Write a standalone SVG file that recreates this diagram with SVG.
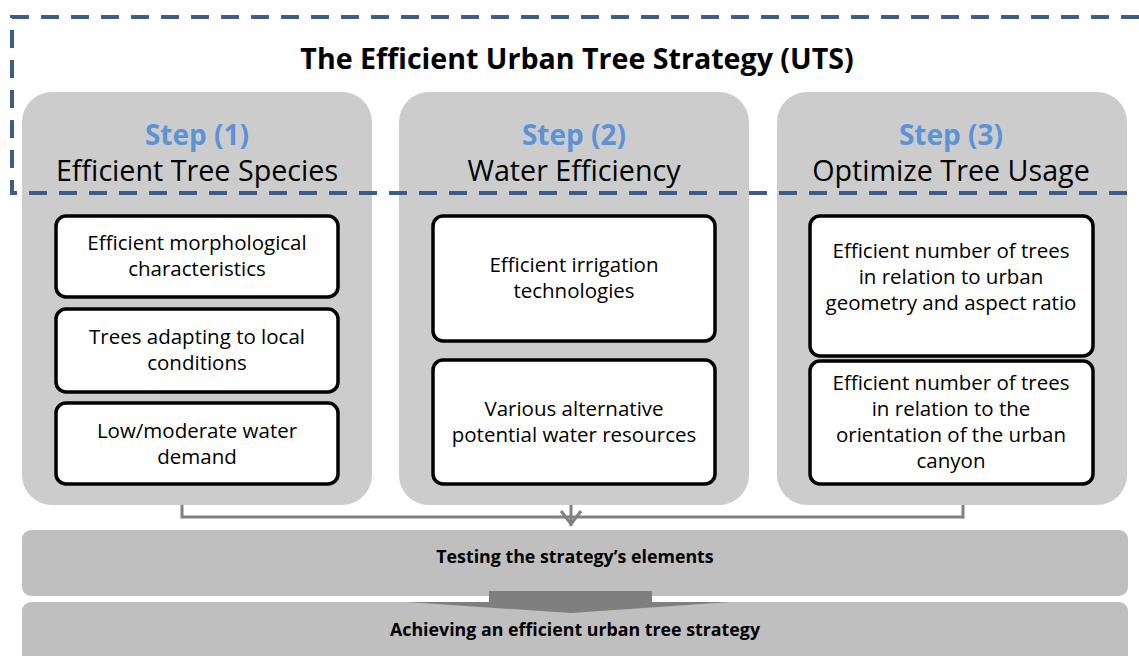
<svg xmlns="http://www.w3.org/2000/svg" width="1139" height="656" viewBox="0 0 1139 656">
  <style>
    text { font-family: "Open Sans", Lato, "Liberation Sans", sans-serif; text-anchor: middle; fill: #000; }
    .panel { fill: #cccccc; }
    .box { fill: #ffffff; stroke: #000; stroke-width: 3.5; }
    .step { font-size: 28px; font-weight: bold; fill: #5b93d8; }
    .head { font-size: 28.7px; }
    .item { font-size: 20.5px; }
    .bar { fill: #bfbfbf; }
    .barlabel { font-size: 17.8px; font-weight: bold; }
    .frame { fill: none; stroke: #3d5c8a; stroke-width: 4; stroke-dasharray: 18 12; }
    .conn { fill: none; stroke: #808080; stroke-width: 3; }
  </style>

  <!-- step panels -->
  <g id="step1">
    <rect class="panel" x="22" y="92" width="350" height="413" rx="30"/>
    <text class="step" x="197" y="145">Step (1)</text>
    <text class="head" x="197" y="181">Efficient Tree Species</text>
    <g id="s1-morph">
      <rect class="box" x="56" y="216" width="282" height="81" rx="10"/>
      <text class="item" x="197" y="250">Efficient morphological</text>
      <text class="item" x="197" y="276">characteristics</text>
    </g>
    <g id="s1-adapt">
      <rect class="box" x="56" y="309" width="282" height="83" rx="10"/>
      <text class="item" x="197" y="344">Trees adapting to local</text>
      <text class="item" x="197" y="370">conditions</text>
    </g>
    <g id="s1-water">
      <rect class="box" x="56" y="403" width="282" height="81" rx="10"/>
      <text class="item" x="197" y="438">Low/moderate water</text>
      <text class="item" x="197" y="464">demand</text>
    </g>
  </g>

  <g id="step2">
    <rect class="panel" x="399" y="92" width="350" height="413" rx="30"/>
    <text class="step" x="574" y="145">Step (2)</text>
    <text class="head" x="574" y="181">Water Efficiency</text>
    <g id="s2-irrigation">
      <rect class="box" x="433" y="216" width="282" height="125" rx="10"/>
      <text class="item" x="574" y="272">Efficient irrigation</text>
      <text class="item" x="574" y="298">technologies</text>
    </g>
    <g id="s2-resources">
      <rect class="box" x="433" y="360" width="282" height="124" rx="10"/>
      <text class="item" x="574" y="416">Various alternative</text>
      <text class="item" x="574" y="442">potential water resources</text>
    </g>
  </g>

  <g id="step3">
    <rect class="panel" x="777" y="92" width="350" height="413" rx="30"/>
    <text class="step" x="951" y="145">Step (3)</text>
    <text class="head" x="951" y="181">Optimize Tree Usage</text>
    <g id="s3-geometry">
      <rect class="box" x="810" y="216" width="283" height="140" rx="10"/>
      <text class="item" x="951" y="258">Efficient number of trees</text>
      <text class="item" x="951" y="284">in relation to urban</text>
      <text class="item" x="951" y="310">geometry and aspect ratio</text>
    </g>
    <g id="s3-orientation">
      <rect class="box" x="810" y="361" width="283" height="123" rx="10"/>
      <text class="item" x="951" y="390">Efficient number of trees</text>
      <text class="item" x="951" y="416">in relation to the</text>
      <text class="item" x="951" y="442">orientation of the urban</text>
      <text class="item" x="951" y="468">canyon</text>
    </g>
  </g>

  <!-- strategy frame and title -->
  <g id="strategy">
    <path class="frame" d="M1139 17 H12 V193 H1139"/>
    <text x="577" y="69" style="font-size:28.6px;font-weight:bold">The Efficient Urban Tree Strategy (UTS)</text>
  </g>

  <!-- bottom stages -->
  <g id="testing">
    <rect class="bar" x="22" y="530" width="1106" height="66" rx="9"/>
    <text class="barlabel" x="575" y="563">Testing the strategy’s elements</text>
  </g>
  <g id="achieving">
    <rect class="bar" x="22" y="602" width="1106" height="64" rx="9"/>
    <text class="barlabel" x="575" y="636">Achieving an efficient urban tree strategy</text>
  </g>

  <!-- connectors -->
  <g id="connectors">
    <path class="conn" d="M182 505 V517 H963 V505"/>
    <path class="conn" d="M571 505 V526"/>
    <path class="conn" d="M561 511 L571 524 L581 511" stroke-width="3.5"/>
    <path d="M489 591 H652 V602 H730 L571 613 L407 602 H489 Z" fill="#7f7f7f"/>
  </g>
</svg>
